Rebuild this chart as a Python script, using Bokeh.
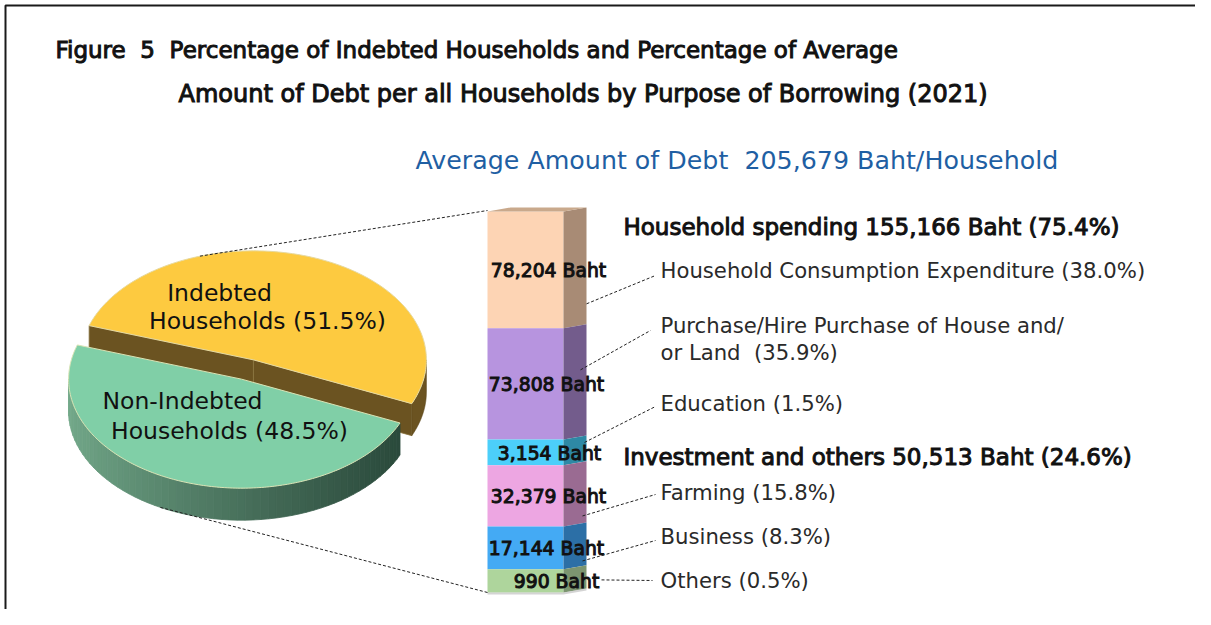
import numpy as np
from bokeh.plotting import figure
from bokeh.models import Range1d, ColumnDataSource
from bokeh.embed import file_html
from bokeh.resources import INLINE
from bokeh.core.properties import value

# ---------------- data ----------------
NB = "\u00a0"
title_lines = [f"Figure{NB}{NB}5{NB}{NB}Percentage of Indebted Households and Percentage of Average",
               "Amount of Debt per all Households by Purpose of Borrowing (2021)"]
average_debt = 205679
pie_names = ["Indebted", "Non-Indebted"]
pie_pcts = [51.5, 48.5]
purposes = ["Household Consumption Expenditure", "Purchase/Hire Purchase of House and/\nor Land" + NB,
            "Education", "Farming", "Business", "Others"]
amounts = [78204, 73808, 3154, 32379, 17144, 990]
purpose_pcts = [38.0, 35.9, 1.5, 15.8, 8.3, 0.5]
groups = ["Household spending", "Investment and others"]
group_members = [[0, 1, 2], [3, 4, 5]]
group_pcts = [75.4, 24.6]

# ---------------- styles / layout ----------------
FONT = value("DejaVu Sans")
front_cols = ["#FDD4B4", "#B794DF", "#4CCFFA", "#EDA6E2", "#44AAF4", "#AED59C"]
side_cols = ["#A88B75", "#735C8C", "#2E89A5", "#9A6B92", "#2C6FA6", "#7C9570"]

W, H = 1195, 609
p = figure(width=W, height=H, x_range=Range1d(0, W), y_range=Range1d(H, 0),
           output_backend="svg", toolbar_location=None, min_border=0)
p.axis.visible = False
p.grid.visible = False
p.outline_line_color = None
p.background_fill_color = "white"

# frame
p.line([W, 5, 5], [5, 5, H], line_color="#1A1A1A", line_width=2)

# titles
p.text([55], [49], text=[title_lines[0]], text_font=FONT, text_font_size="23px",
       text_baseline="middle", text_color="#111111", text_outline_color="#111111")
p.text([178], [93], text=[title_lines[1]], text_font=FONT, text_font_size="24px",
       text_baseline="middle", text_color="#111111", text_outline_color="#111111")
p.text([415], [160], text=[f"Average Amount of Debt{NB}{NB}{average_debt:,} Baht/Household"],
       text_font=FONT, text_font_size="25.3px", text_baseline="middle", text_color="#1F5FA3")

# ---------------- 3D pie ----------------
cx, cy, a, b, depth, expl = 247.0, 369.0, 173.0, 109.0, 32.0, 0.095
th_s = -21.0 - (pie_pcts[0] - 50.0) / 100.0 * 180.0
th_e = th_s + pie_pcts[0] / 100.0 * 360.0

def pt(th, ox, oy, dz=0.0):
    r = np.radians(th)
    return cx + ox + a * np.cos(r), cy + oy - b * np.sin(r) + dz

def arc(t0, t1, ox, oy, dz=0.0, n=80):
    ts = np.linspace(t0, t1, n)
    xs, ys = pt(ts, ox, oy, dz)
    return list(xs), list(ys)

mid_y = np.radians((th_s + th_e) / 2)
oyx, oyy = a * np.cos(mid_y) * expl, -b * np.sin(mid_y) * expl
mid_g = mid_y + np.pi
ogx, ogy = a * np.cos(mid_g) * expl, -b * np.sin(mid_g) * expl

yel_top, yel_side = "#FDCA40", "#6B5321"
grn_top = "#80CFA7"

# yellow cut faces
Oy = (cx + oyx, cy + oyy)
for th in (th_s, th_e):
    ex, ey = pt(th, oyx, oyy)
    p.patch([Oy[0], ex, ex, Oy[0]], [Oy[1], ey, ey + depth, Oy[1] + depth],
            fill_color=yel_side, line_color="#8C7640", line_width=0.8)
# yellow outer side (visible part)
xt, yt = arc(th_s, 0, oyx, oyy)
xb, yb = arc(0, th_s, oyx, oyy, depth)
p.patch(xt + xb, yt + yb, fill_color=yel_side, line_color="#5A461B", line_width=0.6)
# yellow top
xt, yt = arc(th_s, th_e, oyx, oyy, n=200)
p.patch([Oy[0]] + xt, [Oy[1]] + yt, fill_color=yel_top, line_color="#E6D9A0", line_width=1)

# green outer side, gradient strips
g0, g1 = 180.0, th_s + 360.0
edges = np.linspace(g0, g1, 61)
quads = []
for i in range(60):
    t0, t1 = edges[i], edges[i + 1]
    x0, y0 = pt(t0, ogx, ogy)
    x1, y1 = pt(t1, ogx, ogy)
    quads.append(([x0, x1, x1, x0], [y0, y1, y1 + depth, y0 + depth]))
xmin = cx + ogx - a
xmax = pt(g1, ogx, ogy)[0]
c_l = np.array([0x74, 0xAA, 0x8B])
c_r = np.array([0x2B, 0x4A, 0x3C])
gx, gy, gc = [], [], []
for qx, qy in quads:
    t = (np.mean(qx) - xmin) / (xmax - xmin)
    t = min(max(t, 0), 1) ** 0.8
    c = (c_l * (1 - t) + c_r * t).astype(int)
    gx.append(qx); gy.append(qy); gc.append("#%02x%02x%02x" % tuple(c))
p.patches(gx, gy, fill_color=gc, line_color=gc, line_width=0.8)
# green top
Og = (cx + ogx, cy + ogy)
xt, yt = arc(th_e, th_s + 360.0, ogx, ogy, n=200)
p.patch([Og[0]] + xt, [Og[1]] + yt, fill_color=grn_top, line_color="#D9E3B5", line_width=1)

# pie labels
pie_lab_pos = [[(219, 292), (267, 320)], [(182, 400), (229, 430)]]
for name, pct, pos in zip(pie_names, pie_pcts, pie_lab_pos):
    p.text([pos[0][0]], [pos[0][1]], text=[name], text_font=FONT, text_font_size="23.5px",
           text_align="center", text_baseline="middle", text_color="#111111")
    p.text([pos[1][0]], [pos[1][1]], text=[f"Households ({pct}%)"], text_font=FONT,
           text_font_size="23.5px", text_align="center", text_baseline="middle", text_color="#111111")

# ---------------- 3D stacked bar ----------------
bx0, bx1, bx2, skew = 487.0, 563.0, 586.0, 4.0
btop, bbot, min_h = 211.0, 592.0, 22.0
vals = np.array(amounts, dtype=float)
heights = min_h + (bbot - btop - len(vals) * min_h) * vals / vals.sum()
tops = btop + np.concatenate([[0], np.cumsum(heights)[:-1]])
bots = tops + heights

src = ColumnDataSource(dict(left=[bx0] * len(vals), right=[bx1] * len(vals),
                            top=list(tops), bottom=list(bots), color=front_cols))
p.quad(left="left", right="right", top="top", bottom="bottom", fill_color="color",
       line_color=None, source=src)
sx, sy = [], []
for t, bt in zip(tops, bots):
    sx.append([bx1, bx2, bx2, bx1])
    sy.append([t, t - skew, bt - skew, bt])
p.patches(sx, sy, fill_color=side_cols, line_color=None)
p.patch([bx0, bx1, bx2, bx0 + (bx2 - bx1)], [btop, btop, btop - skew, btop - skew],
        fill_color="#C9A98C", line_color=None)
p.patch([bx0, bx1, bx2, bx2, bx1, bx0], [bbot, bbot, bbot - skew, bbot - skew + 2, bbot + 2, bbot + 2],
        fill_color="#B8B8B8", line_color=None, fill_alpha=0.6)

mids = (tops + bots) / 2
lab_x = [548, 546, 549, 548, 546, 556]
p.text(lab_x, list(mids + 1), text=[f"{v:,} Baht" for v in amounts], text_font=FONT,
       text_font_size="18.8px", text_align="center", text_baseline="middle",
       text_color="#111111", text_outline_color="#111111")

# zoom lines from pie to bar
zx0, zy0 = pt(108, oyx, oyy)
zx1, zy1 = pt(242, ogx, ogy, depth)
p.line([zx0, bx0], [zy0, btop - 1], line_color="#222222", line_width=1, line_dash="3 2")
p.line([zx1, bx0], [zy1, bbot], line_color="#222222", line_width=1, line_dash="3 2")

# ---------------- right-hand labels ----------------
group_y = [226, 456]
for g, members, gp, gyv in zip(groups, group_members, group_pcts, group_y):
    tot = sum(amounts[i] for i in members)
    p.text([623], [gyv], text=[f"{g} {tot:,} Baht ({gp}%)"], text_font=FONT,
           text_font_size="23px", text_baseline="middle", text_color="#111111",
           text_outline_color="#111111")

label_y = [270, 325, 403, 492, 536, 580]
lead_end = [(655, 275), (650, 330), (655, 406), (655, 494), (655, 540), (652, 580)]
lead_sx = [586, 580, 584, 582, 582, 601]
lead_dy = [34, -14, -10, 20, 13, -1]
for i, (name, pc) in enumerate(zip(purposes, purpose_pcts)):
    lines = name.split("\n")
    lines[-1] = lines[-1] + f"{NB}({pc}%)"
    for j, ln in enumerate(lines):
        p.text([660], [label_y[i] + 27 * j], text=[ln], text_font=FONT, text_font_size="21.2px",
               text_baseline="middle", text_color="#2A2A2A")
    p.line([lead_sx[i], lead_end[i][0]], [mids[i] + lead_dy[i], lead_end[i][1]],
           line_color="#222222", line_width=1, line_dash="3 2")

open("out.html", "w").write(file_html(p, INLINE))
